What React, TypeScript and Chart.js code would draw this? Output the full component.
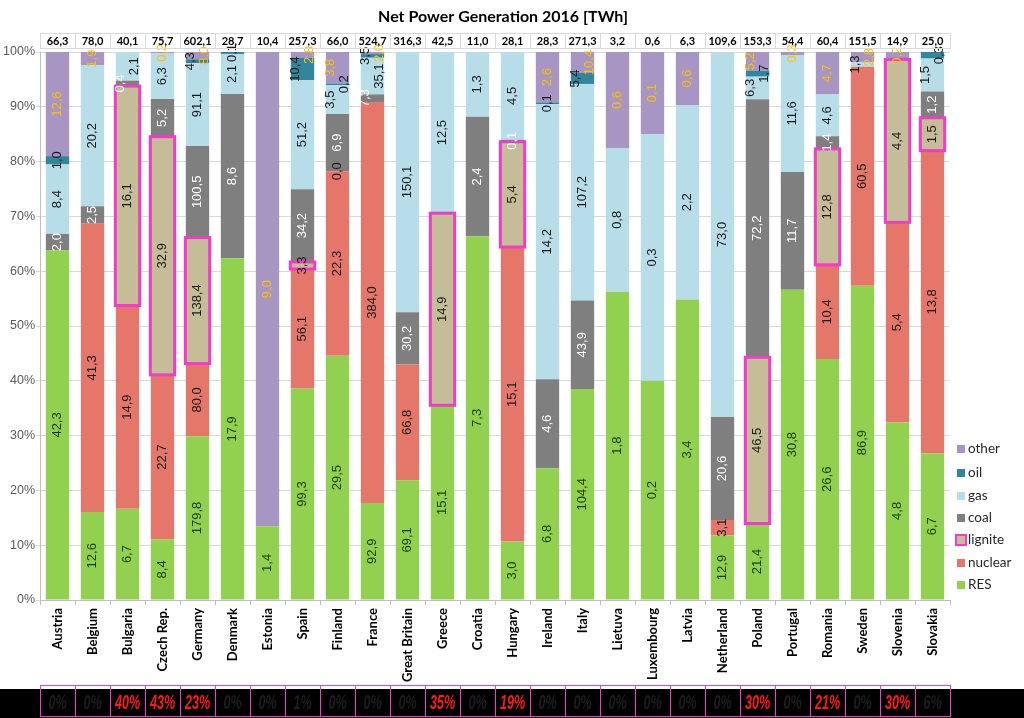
import React, { useEffect, useRef } from 'react';
import { Chart, registerables } from 'chart.js';

Chart.register(...registerables);

// ---- data (TWh) ----
const categories = [
  'Austria', 'Belgium', 'Bulgaria', 'Czech Rep.', 'Germany', 'Denmark', 'Estonia', 'Spain', 'Finland',
  'France', 'Great Britain', 'Greece', 'Croatia', 'Hungary', 'Ireland', 'Italy', 'Lietuva', 'Luxembourg',
  'Latvia', 'Netherland', 'Poland', 'Portugal', 'Romania', 'Sweden', 'Slovenia', 'Slovakia',
];
const totals = [
  66.3, 78.0, 40.1, 75.7, 602.1, 28.7, 10.4, 257.3, 66.0, 524.7, 316.3, 42.5, 11.0, 28.1, 28.3, 271.3,
  3.2, 0.6, 6.3, 109.6, 153.3, 54.4, 60.4, 151.5, 14.9, 25.0,
];
const _ = null;
const res = [42.3, 12.6, 6.7, 8.4, 179.8, 17.9, 1.4, 99.3, 29.5, 92.9, 69.1, 15.1, 7.3, 3.0, 6.8, 104.4, 1.8, 0.24, 3.4, 12.9, 21.4, 30.8, 26.6, 86.9, 4.8, 6.7];
const nuclear = [_, 41.3, 14.9, 22.7, 80.0, _, _, 56.1, 22.3, 384.0, 66.8, _, _, 15.1, _, _, _, _, _, 3.1, _, _, 10.4, 60.5, 5.4, 13.8];
const lignite = [_, _, 16.1, 32.9, 138.4, _, _, 3.3, 0.0, _, _, 14.9, _, 5.4, _, _, _, _, _, _, 46.5, _, 12.8, _, 4.4, 1.5];
const coal = [2.0, 2.5, 0.4, 5.2, 100.5, 8.6, _, 34.2, 6.9, 7.3, 30.2, _, 2.4, 0.1, 4.6, 43.9, _, _, _, 20.6, 72.2, 11.7, 1.4, _, _, 1.2];
const gas = [8.4, 20.2, 2.1, 6.3, 91.1, 2.1, _, 51.2, 3.5, 35.1, 150.1, 12.5, 1.3, 4.5, 14.2, 107.2, 0.84, 0.27, 2.2, 73.0, 6.3, 11.6, 4.6, 1.3, _, 1.5];
const oil = [1.0, _, _, _, 4.3, 0.1, _, 10.4, 0.2, 3.5, _, _, _, _, 0.1, 5.4, _, _, _, _, 1.7, _, _, _, _, 0.3];
const other = [12.6, 1.9, _, 0.2, 8.0, _, 9.0, 2.8, 3.8, 2.0, _, _, _, _, 2.6, 10.4, 0.56, 0.09, 0.6, _, 5.2, 0.3, 4.7, 2.8, 0.2, _];
const ligniteShare = [0, 0, 40, 43, 23, 0, 0, 1, 0, 0, 0, 35, 0, 19, 0, 0, 0, 0, 0, 0, 30, 0, 21, 0, 30, 6];

const seriesNames = ['RES', 'nuclear', 'lignite', 'coal', 'gas', 'oil', 'other'];
const seriesValues = [res, nuclear, lignite, coal, gas, oil, other];
const seriesColors = ['#92d050', '#e5766a', '#c4bd97', '#7f7f7f', '#b7dde8', '#31859c', '#a795c3'];
const labelColors = ['#1c3a05', '#1a1a1a', '#1a1a1a', '#ffffff', '#1a1a1a', '#1a1a1a', '#ffc000'];
const MAGENTA = '#f03cc8';

const fmt = (v: number) => v.toFixed(1).replace('.', ',');

const rowSums = categories.map((_c, i) =>
  seriesValues.reduce((s, arr) => s + (arr[i] ?? 0), 0)
);

const overlay = {
  id: 'overlay',
  afterDatasetsDraw(chart: any) {
    const ctx = chart.ctx as CanvasRenderingContext2D;
    // lignite boxes
    const lm = chart.getDatasetMeta(2);
    ctx.save();
    ctx.strokeStyle = MAGENTA;
    ctx.lineWidth = 3;
    lm.data.forEach((bar: any, i: number) => {
      const v = lignite[i];
      if (!v) return;
      const p = bar.getProps(['x', 'y', 'base', 'width'], true);
      ctx.strokeRect(p.x - p.width / 2 - 0.5, p.y, p.width + 1, p.base - p.y);
    });
    ctx.restore();

    // data labels
    ctx.save();
    ctx.font = '13px "Liberation Sans", Arial, sans-serif';
    ctx.textAlign = 'center';
    ctx.textBaseline = 'middle';
    categories.forEach((_c, i) => {
      const labels: any[] = [];
      seriesValues.forEach((arr, s) => {
        const v = arr[i];
        if (v === null || v === undefined) return;
        const bar = chart.getDatasetMeta(s).data[i];
        const p = bar.getProps(['x', 'y', 'base'], true);
        const text = fmt(v);
        const w = ctx.measureText(text).width;
        labels.push({ x: p.x, yc: (p.y + p.base) / 2, half: w / 2 + 1, text, color: labelColors[s], dx: 0 });
      });
      for (let k = 1; k < labels.length; k++) {
        const a = labels[k - 1];
        const b = labels[k];
        if (b.yc + b.half > a.yc - a.half) {
          if (a.dx === 0) {
            a.dx = -7;
            b.dx = 7;
          } else {
            b.dx = -a.dx;
          }
        }
      }
      labels.forEach((l) => {
        ctx.save();
        ctx.translate(l.x + l.dx, l.yc);
        ctx.rotate(-Math.PI / 2);
        ctx.fillStyle = l.color;
        ctx.fillText(l.text, 0, 0);
        ctx.restore();
      });
    });
    ctx.restore();
  },
  afterDraw(chart: any) {
    const ctx = chart.ctx as CanvasRenderingContext2D;
    const area = chart.chartArea;
    const xs = chart.scales.x;
    const catW = (area.right - area.left) / categories.length;

    // title
    ctx.save();
    ctx.fillStyle = '#000';
    ctx.font = 'bold 16px Lato, "Open Sans", sans-serif';
    ctx.textAlign = 'center';
    ctx.textBaseline = 'middle';
    ctx.fillText('Net Power Generation 2016 [TWh]', 503, 17);
    ctx.restore();

    // totals row
    ctx.save();
    ctx.strokeStyle = '#d9d9d9';
    ctx.lineWidth = 1;
    ctx.font = 'bold 11px Lato, "Open Sans", sans-serif';
    ctx.textAlign = 'center';
    ctx.textBaseline = 'middle';
    ctx.fillStyle = '#000';
    categories.forEach((_c, i) => {
      const cx = xs.getPixelForValue(i);
      const left = Math.round(cx - catW / 2) + 0.5;
      ctx.strokeRect(left, 33.5, catW, 15);
      ctx.fillText(fmt(totals[i]), cx, 41.5);
    });
    ctx.restore();

    // legend
    ctx.save();
    const legendOrder = [6, 5, 4, 3, 2, 1, 0];
    const ys = [449, 473, 496, 518, 540, 563, 585];
    ctx.font = '13.5px Lato, "Open Sans", sans-serif';
    ctx.textBaseline = 'middle';
    ctx.textAlign = 'left';
    legendOrder.forEach((s, k) => {
      const y = ys[k];
      if (s === 2) {
        ctx.fillStyle = seriesColors[s];
        ctx.fillRect(956, y - 5, 10, 10);
        ctx.strokeStyle = MAGENTA;
        ctx.lineWidth = 2;
        ctx.strokeRect(956, y - 5, 10, 10);
      } else {
        ctx.fillStyle = seriesColors[s];
        ctx.fillRect(957, y - 4, 8, 8);
      }
      ctx.fillStyle = '#262626';
      ctx.fillText(seriesNames[s], 968, y);
    });
    ctx.restore();

    // bottom band
    ctx.save();
    ctx.fillStyle = '#000';
    ctx.fillRect(0, 689, 1024, 29);
    ctx.strokeStyle = MAGENTA;
    ctx.lineWidth = 1;
    categories.forEach((_c, i) => {
      const cx = xs.getPixelForValue(i);
      const left = Math.round(cx - catW / 2) + 0.5;
      ctx.strokeRect(left, 685.5, catW, 31);
      const p = ligniteShare[i];
      ctx.save();
      ctx.translate(cx, 703);
      ctx.scale(0.6, 1);
      ctx.font = 'italic bold 21px "Liberation Sans", Arial, sans-serif';
      ctx.textAlign = 'center';
      ctx.textBaseline = 'middle';
      ctx.fillStyle = p >= 10 ? '#ff1a1a' : '#1e1e1e';
      ctx.fillText(`${p}%`, 0, 0);
      ctx.restore();
    });
    ctx.restore();
  },
};

export default function App() {
  const ref = useRef<HTMLCanvasElement | null>(null);
  useEffect(() => {
    if (!ref.current) return;
    const datasets = seriesValues.map((arr, s) => ({
      label: seriesNames[s],
      data: arr.map((v, i) => (v === null ? null : (v / rowSums[i]) * 100)),
      backgroundColor: seriesColors[s],
      borderWidth: 0,
      barPercentage: 0.667,
      categoryPercentage: 1,
    }));
    const chart = new Chart(ref.current, {
      type: 'bar',
      data: { labels: categories, datasets },
      options: {
        responsive: false,
        animation: false,
        devicePixelRatio: 1,
        layout: { padding: { top: 52, right: 74, bottom: 0, left: 0 } },
        plugins: { legend: { display: false }, tooltip: { enabled: false }, title: { display: false } },
        scales: {
          x: {
            stacked: true,
            grid: { drawOnChartArea: false, drawTicks: true, tickLength: 5, color: '#bfbfbf' },
            border: { display: true, color: '#bfbfbf' },
            ticks: {
              autoSkip: false,
              maxRotation: 90,
              minRotation: 90,
              padding: 3,
              color: '#000',
              font: { family: 'Lato, "Open Sans", sans-serif', size: 13, weight: 'bold' },
            },
            afterFit: (scale: any) => {
              scale.height = 118;
            },
          },
          y: {
            stacked: true,
            min: 0,
            max: 100,
            grid: { color: '#d9d9d9', tickLength: 4 },
            border: { display: true, color: '#bfbfbf' },
            ticks: {
              stepSize: 10,
              padding: 1,
              color: '#595959',
              font: { family: '"Liberation Sans", Arial, sans-serif', size: 12.5 },
              callback: (v: any) => `${v}%`,
            },
            afterFit: (scale: any) => {
              scale.width = 40;
            },
          },
        },
      },
      plugins: [overlay],
    } as any);
    return () => chart.destroy();
  }, []);
  return (
    <div style={{ position: 'absolute', left: 0, top: 0, width: 1024, height: 718, background: '#fff' }}>
      <canvas ref={ref} width={1024} height={718} style={{ display: 'block' }} />
    </div>
  );
}
